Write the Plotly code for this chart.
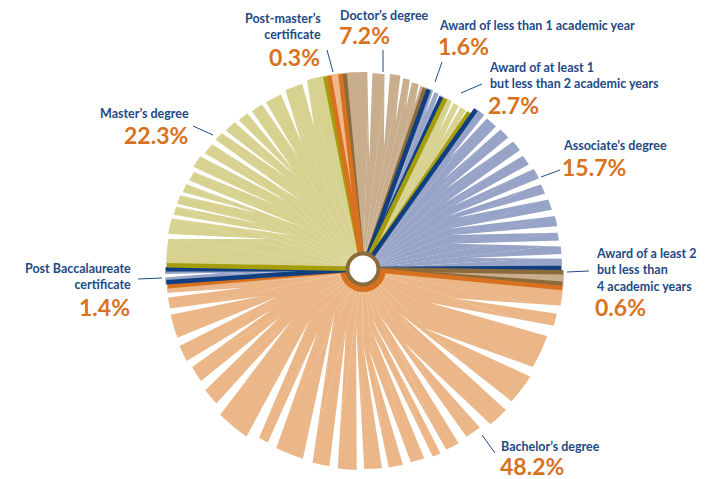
import plotly.graph_objects as go

# shares of degrees, clockwise from the top
categories = ["Doctor's degree", "Award of less than 1 academic year",
              "Award of at least 1 but less than 2 academic years", "Associate's degree",
              "Award of a least 2 but less than 4 academic years", "Bachelor's degree",
              "Post Baccalaureate certificate", "Master's degree", "Post-master's certificate"]
shares = [7.2, 1.6, 2.7, 15.7, 0.6, 48.2, 1.4, 22.3, 0.3]

fill_cols = ["#C9AE8E", "#97A3C7", "#D8D291", "#97A3C7", "#C9AE8E",
             "#EBB788", "#97A3C7", "#D8D291", "#EDB88A"]
edge_cols = ["#8B6A3C", "#0F3F80", "#A59D0B", "#0F3F80", "#8B6A3C",
             "#D8711F", "#0F3F80", "#A59D0B", "#D8711F"]

# outer length of each "page" in a slice
doctor_r = [197, 196, 197, 195, 193, 192]
award1_r = [192, 191, 190]
award12_r = [190, 189, 189, 190]
assoc_r = [196, 195, 196, 197, 196, 198, 197, 198, 199, 198, 199, 199]
award24_r = [201]
bach_r = [201, 199, 196, 199, 201, 197, 199, 200, 199, 200, 200,
          201, 200, 199, 198, 204, 199, 197, 199, 198, 197, 197]
postbacc_r = [198, 198]
master_r = [197, 198, 197, 197, 196, 195, 198, 196, 196, 195, 194, 193, 193, 195, 197]
postmaster_r = [197]

# white gaps between pages: outer angle, tip angle, tip radius, outer width
doctor_out = [1.9, 6.8, 11.2, 14.0, 16.8]
doctor_tip = [3.3, 9.8, 12.5, 15.0, 17.5]
doctor_tr = [108, 123, 150, 165, 172]
doctor_w = [1.6, 1.8, 1.2, 1.0, 1.0]

award1_out = [21.6, 23.4]
award1_tip = [22.0, 23.8]
award1_tr = [165, 172]
award1_w = [0.9, 0.9]

award12_out = [28.0, 30.5, 33.0]
award12_tip = [29.0, 31.5, 33.8]
award12_tr = [155, 150, 160]
award12_w = [1.0, 1.0, 1.0]

assoc_out = [39, 44, 49, 54, 59, 64, 69, 74, 79, 83, 86.5]
assoc_tip = [38, 42, 46, 51, 55, 58, 61, 65, 69, 74, 84]
assoc_tr = [140, 120, 115, 105, 110, 100, 105, 95, 95, 92, 105]
assoc_w = [1.5, 1.8, 2, 2, 2, 2, 2, 2, 2, 1.8, 1.4]

award24_out, award24_tip, award24_tr, award24_w = [], [], [], []

bach_out = [101.5, 108, 120.8, 133, 141.8, 149.6, 156, 160.6, 167, 173.4, 180.6,
            188.3, 195.8, 207, 212.9, 225.7, 233.6, 241, 248.3, 257.7, 262.5]
bach_tip = [107.9, 117, 133.9, 140.5, 150.9, 160.4, 170.7, 172, 176, 180, 187,
            195.8, 213.3, 216, 226, 234, 240, 246, 252, 255, 261]
bach_tr = [95, 74, 85, 57, 84, 48, 49, 62, 80, 75, 57, 62, 52, 77, 75, 89, 95, 100, 90, 105, 120]
bach_w = [2.5, 3.5, 3.0, 3.0, 3.0, 3.0, 2.0, 2.5, 2.5, 2.0, 2.2,
          2.5, 3.0, 3.0, 3.5, 3.0, 3.0, 2.5, 2.5, 2.0, 1.5]

postbacc_out = [268]
postbacc_tip = [268.5]
postbacc_tr = [140]
postbacc_w = [1.2]

master_out = [279, 285, 288.5, 292, 296, 300, 305, 310, 314, 319, 324, 329, 336, 343]
master_tip = [288, 297, 294, 298, 305, 306, 312, 317.6, 320, 324, 325, 330, 334, 341]
master_tr = [97, 72, 111, 120, 72, 110, 100, 92, 120, 115, 120, 130, 140, 150]
master_w = [1.6, 1.2, 1.0, 1.2, 1.4, 1.4, 1.5, 1.8, 1.5, 1.5, 1.6, 1.6, 2.0, 2.0]

postmaster_out, postmaster_tip, postmaster_tr, postmaster_w = [], [], [], []

seg_r = [doctor_r, award1_r, award12_r, assoc_r, award24_r, bach_r, postbacc_r, master_r, postmaster_r]
spk_out = [doctor_out, award1_out, award12_out, assoc_out, award24_out, bach_out,
           postbacc_out, master_out, postmaster_out]
spk_tip = [doctor_tip, award1_tip, award12_tip, assoc_tip, award24_tip, bach_tip,
           postbacc_tip, master_tip, postmaster_tip]
spk_tr = [doctor_tr, award1_tr, award12_tr, assoc_tr, award24_tr, bach_tr,
          postbacc_tr, master_tr, postmaster_tr]
spk_w = [doctor_w, award1_w, award12_w, assoc_w, award24_w, bach_w,
         postbacc_w, master_w, postmaster_w]

# slice sizes, tiny slices get a minimum width like in the original graphic
spans = [s * 3.6 for s in shares]
min_span = 4.5
small = [sp < min_span for sp in spans]
k = (360 - min_span * sum(small)) / sum(sp for sp, sm in zip(spans, small) if not sm)
spans = [min_span if sm else sp * k for sp, sm in zip(spans, small)]
start = -6.0

fig = go.Figure()

bar_t, bar_w, bar_r, bar_c = [], [], [], []
edges = []
a0 = start
for i in range(len(categories)):
    a1 = a0 + spans[i]
    bounds = [a0] + spk_out[i] + [a1]
    for j in range(len(bounds) - 1):
        bar_t.append((bounds[j] + bounds[j + 1]) / 2)
        bar_w.append(bounds[j + 1] - bounds[j] + 0.05)
        bar_r.append(seg_r[i][j])
        bar_c.append(fill_cols[i])
    edges.append((a0 + 0.6, seg_r[i][0], edge_cols[i]))
    edges.append((a1 - 0.6, seg_r[i][-1], edge_cols[i]))
    if i == 5:
        bach_mid, bach_span = (a0 + a1) / 2, spans[i]
    a0 = a1

fig.add_trace(go.Barpolar(r=bar_r, theta=bar_t, width=bar_w,
                          marker=dict(color=bar_c, line=dict(width=0)), hoverinfo="skip"))

# white spikes
st, sr = [], []
for i in range(len(categories)):
    for o, t, tr, w in zip(spk_out[i], spk_tip[i], spk_tr[i], spk_w[i]):
        st += [o - w / 2, t, o + w / 2, None]
        sr += [210, tr, 210, None]
fig.add_trace(go.Scatterpolar(r=sr, theta=st, mode="lines", fill="toself",
                              fillcolor="white", line=dict(width=0, color="white"),
                              hoverinfo="skip"))

# dark borders of every slice
for th, rr, col in edges:
    fig.add_trace(go.Scatterpolar(r=[0, rr - 1], theta=[th, th], mode="lines",
                                  line=dict(color=col, width=4.5), hoverinfo="skip"))

# hub
fig.add_trace(go.Barpolar(r=[23], theta=[bach_mid], width=[bach_span],
                          marker=dict(color="#D8711F", line=dict(width=0)), hoverinfo="skip"))
fig.add_trace(go.Scatterpolar(r=[0], theta=[0], mode="markers",
                              marker=dict(size=31, color="white", line=dict(color="#8B6A3C", width=4)),
                              hoverinfo="skip"))

# the page body has an 8px margin, so the figure starts at (8, 8) on screen
OX, OY = 8, 8
W, H = 705 - OX, 479 - OY
cx, cy, R = 363 - OX, 269 - OY, 210
fig.update_layout(
    width=W, height=H, margin=dict(l=0, r=0, t=0, b=0),
    paper_bgcolor="white", showlegend=False,
    polar=dict(
        domain=dict(x=[(cx - R) / W, (cx + R) / W], y=[(H - cy - R) / H, (H - cy + R) / H]),
        bgcolor="white",
        angularaxis=dict(rotation=90, direction="clockwise", visible=False),
        radialaxis=dict(range=[0, R], visible=False),
    ),
)

BLUE = "#1E4A86"
ORANGE = "#D8721F"


def txt(x, y, s, size, color, anchor):
    fig.add_annotation(x=(x - OX) / W, y=1 - (y - OY) / H, xref="paper", yref="paper", text=s,
                       showarrow=False, xanchor=anchor, yanchor="middle", align=anchor,
                       borderpad=0, font=dict(family="Lato", size=size, color=color, weight=700))


def lead(x0, y0, x1, y1):
    fig.add_shape(type="line", xref="paper", yref="paper",
                  x0=(x0 - OX) / W, y0=1 - (y0 - OY) / H, x1=(x1 - OX) / W, y1=1 - (y1 - OY) / H,
                  line=dict(color=BLUE, width=1))


LS, PS = 12.5, 23
txt(322, 26.5, "Post-master’s<br>certificate", LS, BLUE, "right")
txt(321, 57, "0.3%", PS, ORANGE, "right")
lead(327, 50, 333, 72)

txt(339, 16, "Doctor’s degree", LS, BLUE, "left")
txt(338, 35, "7.2%", PS, ORANGE, "left")
lead(383, 50, 383, 72)

txt(438, 26, "Award of less than 1 academic year", LS, BLUE, "left")
txt(437, 46, "1.6%", PS, ORANGE, "left")
lead(442, 62, 435, 82)

txt(488, 75.5, "Award of at least 1<br>but less than 2 academic years", LS, BLUE, "left")
txt(487, 104.5, "2.7%", PS, ORANGE, "left")
lead(482, 84, 461, 93)

txt(562, 146, "Associate’s degree", LS, BLUE, "left")
txt(561, 167, "15.7%", PS, ORANGE, "left")
lead(541, 177, 560, 170)

txt(595, 269.5, "Award of a least 2<br>but less than<br>4 academic years", LS, BLUE, "left")
txt(594, 307, "0.6%", PS, ORANGE, "left")
lead(567, 272, 589, 271)

txt(500, 446, "Bachelor’s degree", LS, BLUE, "left")
txt(499, 466, "48.2%", PS, ORANGE, "left")
lead(482, 435, 495, 453)

txt(132, 276.5, "Post Baccalaureate<br>certificate", LS, BLUE, "right")
txt(131, 306.5, "1.4%", PS, ORANGE, "right")
lead(138, 279, 162, 278)

txt(190, 114, "Master’s degree", LS, BLUE, "right")
txt(189, 135, "22.3%", PS, ORANGE, "right")
lead(193, 126, 213, 135)

fig.write_html("out.html")
